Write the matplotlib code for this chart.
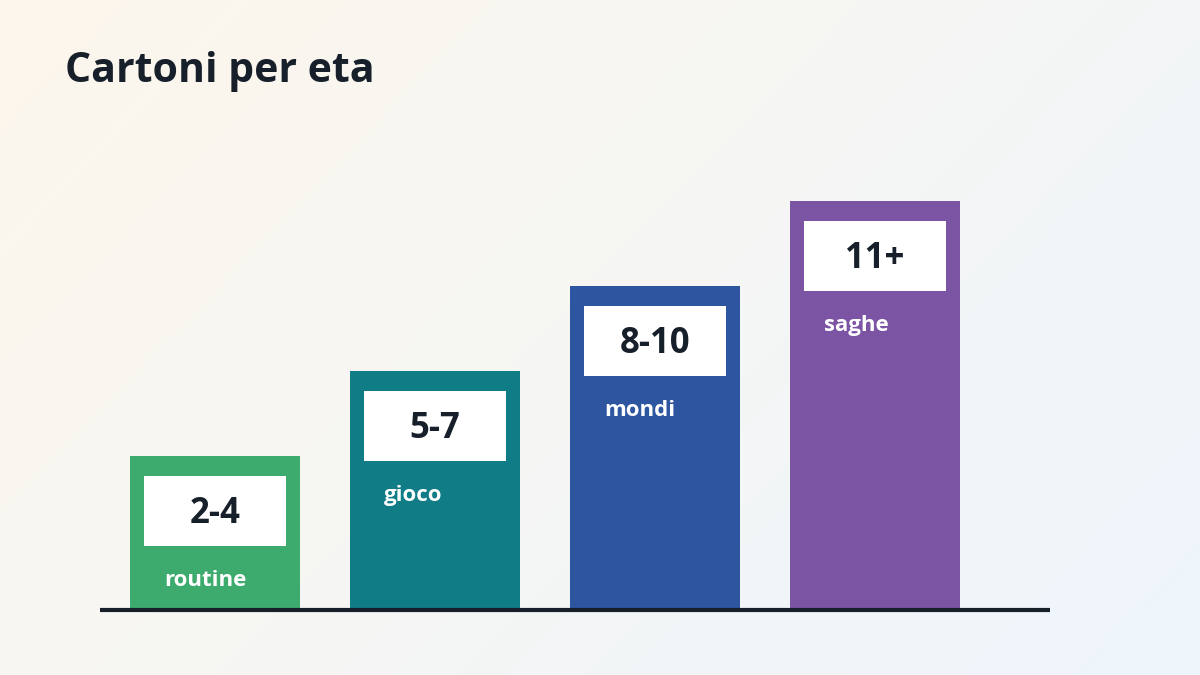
import numpy as np
import matplotlib
matplotlib.use("Agg")
import matplotlib.pyplot as plt
from matplotlib.patches import Rectangle

# dati
fasce = ["2-4", "5-7", "8-10", "11+"]
generi = ["routine", "gioco", "mondi", "saghe"]
valori = [9, 14, 19, 24]
colori = ["#3DAA6E", "#0F7C86", "#2E55A0", "#7B55A4"]

plt.rcParams['font.family'] = ['Open Sans', 'DejaVu Sans']

W, H = 1200, 675
fig = plt.figure(figsize=(12, 6.75), dpi=100)

# sfondo sfumato
bg = fig.add_axes([0, 0, 1, 1])
gx, gy = np.meshgrid(np.linspace(0, 1, 300), np.linspace(0, 1, 170))
t = np.clip((gx * 0.65 + gy * 0.35), 0, 1)[..., None]
c0 = np.array([253, 247, 236]) / 255
c1 = np.array([238, 245, 252]) / 255
img = c0 * (1 - t) + c1 * t
bg.imshow(img, extent=[0, 1, 0, 1], aspect='auto', origin='upper')
bg.axis('off')

# assi in pixel: x 100..1050, y baseline 609 verso l'alto
px_unit = 220.0
py_unit = 17.0
left, right, base, top = 100, 1050, 609, 100
ax = fig.add_axes([left / W, (H - base) / H, (right - left) / W, (base - top) / H])
ax.patch.set_alpha(0)
ax.set_xlim(-115 / px_unit, (right - 215) / px_unit)
ax.set_ylim(0, (base - top) / py_unit)
ax.axis('off')

x = np.arange(len(valori))
bw = 170 / px_unit
ax.bar(x, valori, width=bw, color=colori, zorder=2)
ax.axhline(-1 / py_unit, color="#17202A", linewidth=3, zorder=3, clip_on=False,
           solid_capstyle='butt')

for xi, v, f, g in zip(x, valori, fasce, generi):
    # riquadro bianco con la fascia d'eta
    bx = xi - bw / 2 + 14 / px_unit
    by = v - 90 / py_unit
    ax.add_patch(Rectangle((bx, by), bw - 28 / px_unit, 70 / py_unit,
                           facecolor="white", edgecolor="none", zorder=4))
    ax.text(xi, v - 58 / py_unit, f, ha='center', va='center', fontsize=25,
            fontweight='bold', color="#17202A", zorder=5)
    ax.text(xi - bw / 2 + 34 / px_unit, v - 125 / py_unit, g, ha='left', va='center',
            fontsize=16, fontweight='bold', color="white", zorder=5)

fig.text(65 / W, 1 - 72 / H, "Cartoni per eta", ha='left', va='center',
         fontsize=29.5, fontweight='bold', color="#17202A")

fig.savefig("out.png", dpi=100)
